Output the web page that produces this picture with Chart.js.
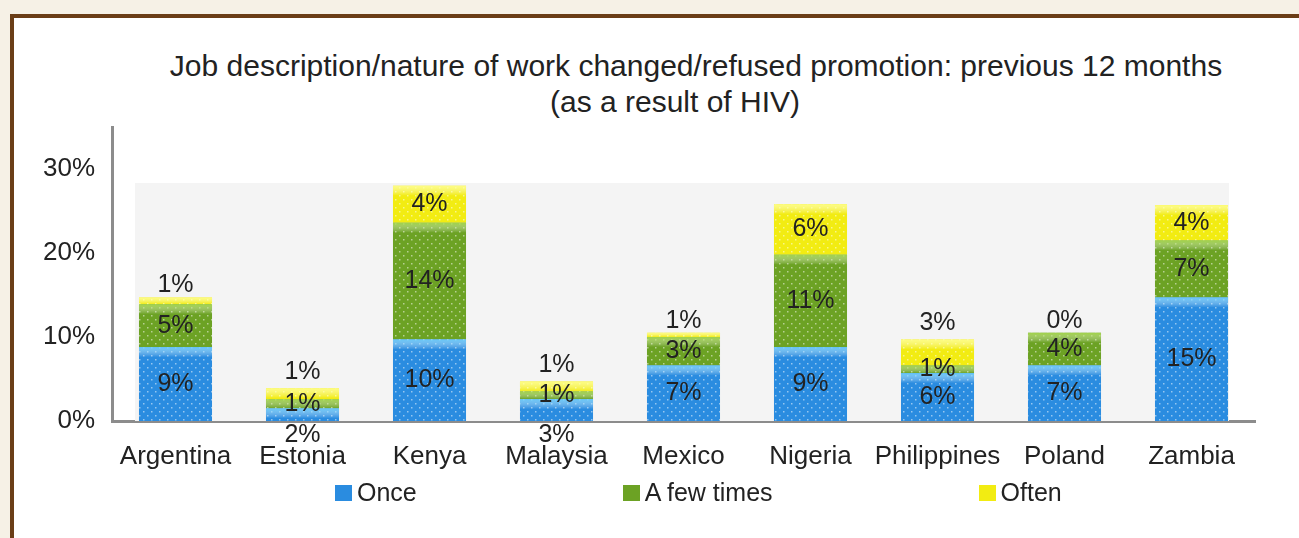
<!DOCTYPE html>
<html lang="en">
<head>
<meta charset="UTF-8">
<title>Job description/nature of work changed/refused promotion</title>
<script src="https://cdn.jsdelivr.net/npm/chart.js"></script>
<style>
    body {
        margin: 0;
        background: #f6f1e6;
        font-family: Arial, "Liberation Sans", sans-serif;
        overflow: hidden;
    }
    #frame {
        position: absolute;
        left: 10px;
        top: 14px;
        width: 1400px;
        height: 600px;
        background: #fff;
        border-left: 4px solid #6b3e17;
        border-top: 4px solid #6b3e17;
    }
    #wrap {
        position: absolute;
        left: 0;
        top: 0;
        width: 1285px;
        height: 520px;
    }
    .title {
        position: absolute;
        font-size: 30px;
        color: #222;
        white-space: nowrap;
        transform: translateX(-50%);
    }
    #legend {
        position: absolute;
        left: 321px;
        top: 460px;
        display: flex;
        gap: 206px;
        font-size: 25px;
        color: #222;
    }
    #legend .item { display: flex; align-items: center; }
    #legend .box { width: 17px; height: 16px; margin-right: 5px; }
</style>
</head>
<body>
<div id="frame">
    <div class="title" style="left:682px; top:31px;">Job description/nature of work changed/refused promotion: previous 12 months</div>
    <div class="title" style="left:661px; top:67px;">(as a result of HIV)</div>
    <div id="wrap"><canvas id="chart"></canvas></div>
    <div id="legend"></div>
</div>
<script>
    const countries = ['Argentina', 'Estonia', 'Kenya', 'Malaysia', 'Mexico', 'Nigeria', 'Philippines', 'Poland', 'Zambia'];
    const seriesNames = ['Once', 'A few times', 'Often'];
    const once     = [8.8, 1.5, 9.7, 2.6, 6.6, 8.8, 5.7, 6.6, 14.7];
    const fewTimes = [5.1, 1.1, 13.9, 0.9, 3.4, 11.0, 0.9, 3.9, 6.8];
    const often    = [0.8, 1.3, 4.4, 1.2, 0.5, 6.0, 3.1, 0, 4.2];
    const yTicks = [0, 10, 20, 30];

    const baseColors = ['#2a8ce0', '#6ca224', '#f2ec12'];
    const glossColors = ['rgba(110,205,250,0.9)', 'rgba(165,215,75,0.9)', 'rgba(255,255,140,0.9)'];

    // dotted fill like the original's textured bars
    function dotted(color) {
        const c = document.createElement('canvas');
        c.width = 8; c.height = 8;
        const g = c.getContext('2d');
        g.fillStyle = color;
        g.fillRect(0, 0, 8, 8);
        g.fillStyle = 'rgba(255,255,255,0.5)';
        g.fillRect(1, 1, 1.5, 1.5);
        g.fillRect(5, 5, 1.5, 1.5);
        return g.createPattern(c, 'repeat');
    }

    const plotBg = {
        id: 'plotBg',
        beforeDatasetsDraw(chart) {
            const a = chart.chartArea;
            const ctx = chart.ctx;
            ctx.save();
            ctx.fillStyle = '#f4f4f4';
            ctx.fillRect(a.left + 23, a.top + 56, a.right - a.left - 49, a.bottom - a.top - 56);
            ctx.restore();
        }
    };

    const gloss = {
        id: 'gloss',
        afterDatasetsDraw(chart) {
            const ctx = chart.ctx;
            chart.data.datasets.forEach((ds, i) => {
                chart.getDatasetMeta(i).data.forEach(el => {
                    const p = el.getProps(['x', 'y', 'base', 'width'], true);
                    const top = Math.min(p.y, p.base);
                    const h = Math.abs(p.base - p.y);
                    if (h < 3) return;
                    const gh = Math.min(10, h);
                    const grad = ctx.createLinearGradient(0, top, 0, top + gh);
                    grad.addColorStop(0, glossColors[i]);
                    grad.addColorStop(1, 'rgba(255,255,255,0)');
                    ctx.save();
                    ctx.fillStyle = grad;
                    ctx.fillRect(p.x - p.width / 2, top, p.width, gh);
                    ctx.restore();
                });
            });
        }
    };

    const valueLabels = {
        id: 'valueLabels',
        afterDatasetsDraw(chart) {
            const ctx = chart.ctx;
            const last = chart.data.datasets.length - 1;
            ctx.save();
            ctx.font = '25px Arial, "Liberation Sans", sans-serif';
            ctx.fillStyle = '#222';
            ctx.textAlign = 'center';
            ctx.textBaseline = 'middle';
            chart.data.datasets.forEach((ds, i) => {
                chart.getDatasetMeta(i).data.forEach((el, j) => {
                    const p = el.getProps(['x', 'y', 'base'], true);
                    const h = Math.abs(p.base - p.y);
                    let y = (p.y + p.base) / 2;
                    if (i === last && h < 30) y = Math.min(p.y, p.base) - (h < 8 ? 12 : 16);
                    else if (i === 0 && h < 25) y = chart.chartArea.bottom + 14;
                    ctx.fillText(Math.round(ds.data[j]) + '%', p.x, y);
                });
            });
            ctx.restore();
        }
    };

    const values = [once, fewTimes, often];
    const datasets = values.map((v, i) => ({
        label: seriesNames[i],
        data: v,
        backgroundColor: dotted(baseColors[i]),
        borderWidth: 0,
        categoryPercentage: 1,
        barPercentage: 0.575
    }));

    Chart.defaults.font.family = 'Arial, "Liberation Sans", sans-serif';
    Chart.defaults.color = '#222';

    new Chart(document.getElementById('chart'), {
        type: 'bar',
        data: { labels: countries, datasets: datasets },
        options: {
            responsive: true,
            maintainAspectRatio: false,
            animation: false,
            layout: { padding: { left: 0, top: 109, right: 44, bottom: 0 } },
            plugins: {
                legend: { display: false },
                title: { display: false },
                tooltip: { enabled: true }
            },
            scales: {
                x: {
                    stacked: true,
                    grid: { display: false, drawTicks: false },
                    border: { display: true, color: '#8c8c8c', width: 3 },
                    ticks: {
                        font: { size: 26 },
                        padding: 20,
                        color: '#222',
                        maxRotation: 0,
                        minRotation: 0,
                        autoSkip: false
                    },
                    afterFit(scale) { scale.height = 117; }
                },
                y: {
                    stacked: true,
                    min: 0,
                    max: 35,
                    grid: { display: false, drawTicks: false },
                    border: { display: true, color: '#8c8c8c', width: 3 },
                    afterBuildTicks(scale) { scale.ticks = yTicks.map(v => ({ value: v })); },
                    ticks: {
                        font: { size: 26 },
                        padding: 17,
                        color: '#222',
                        callback: v => v + '%'
                    },
                    afterFit(scale) { scale.width = 98; }
                }
            }
        },
        plugins: [plotBg, gloss, valueLabels]
    });

    // legend in a row, spaced like the original
    const legend = document.getElementById('legend');
    seriesNames.forEach((name, i) => {
        const item = document.createElement('div');
        item.className = 'item';
        const box = document.createElement('span');
        box.className = 'box';
        box.style.background = baseColors[i];
        item.appendChild(box);
        item.appendChild(document.createTextNode(name));
        legend.appendChild(item);
    });
</script>
</body>
</html>
